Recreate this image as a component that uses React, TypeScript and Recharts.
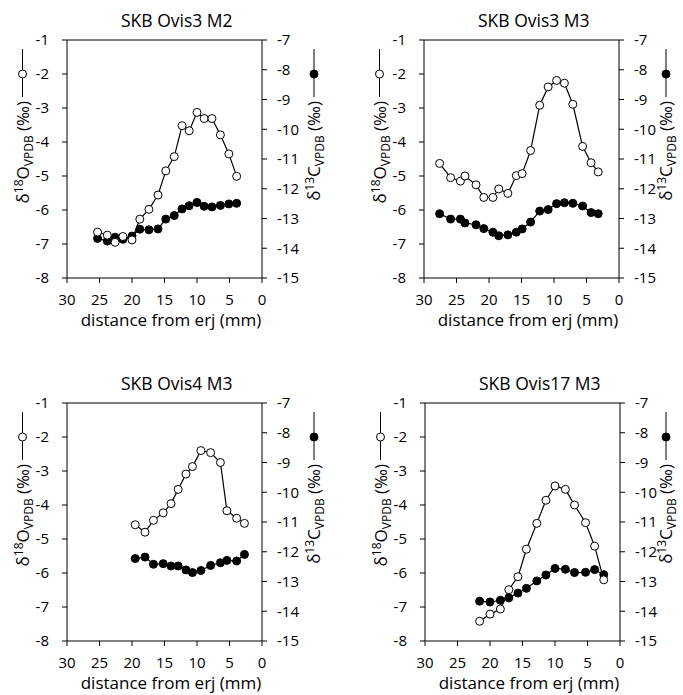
import React from 'react';
import { LineChart, Line, XAxis, YAxis, ReferenceLine } from 'recharts';

// ---------- data (distance from erj in mm, δ18O ‰, δ13C ‰) ----------
const titles = ['SKB Ovis3 M2', 'SKB Ovis3 M3', 'SKB Ovis4 M3', 'SKB Ovis17 M3'];

const distOvis3M2 = [25.3, 23.8, 22.6, 21.4, 20.0, 18.8, 17.4, 16.0, 14.8, 13.5, 12.3, 11.2, 10.0, 8.9, 7.7, 6.4, 5.1, 3.9];
const o18Ovis3M2 = [-6.65, -6.74, -6.95, -6.78, -6.88, -6.27, -5.98, -5.56, -4.85, -4.43, -3.52, -3.67, -3.13, -3.31, -3.31, -3.79, -4.35, -5.01];
const c13Ovis3M2 = [-13.67, -13.76, -13.63, -13.7, -13.59, -13.36, -13.38, -13.35, -13.02, -12.9, -12.68, -12.57, -12.46, -12.59, -12.61, -12.56, -12.51, -12.49];

const distOvis3M3 = [27.6, 25.9, 24.4, 23.7, 22.0, 20.8, 19.4, 18.5, 17.1, 15.8, 14.9, 13.6, 12.2, 10.9, 9.6, 8.4, 7.1, 5.6, 4.3, 3.2];
const o18Ovis3M3 = [-4.63, -5.05, -5.15, -5.0, -5.26, -5.63, -5.63, -5.38, -5.51, -4.99, -4.93, -4.25, -2.92, -2.38, -2.19, -2.27, -2.89, -4.13, -4.61, -4.88];
const c13Ovis3M3 = [-12.84, -13.02, -13.02, -13.15, -13.21, -13.34, -13.46, -13.58, -13.55, -13.46, -13.35, -13.12, -12.75, -12.7, -12.5, -12.47, -12.49, -12.58, -12.8, -12.84];

const distOvis4M3 = [19.5, 18.0, 16.7, 15.2, 14.0, 12.9, 11.7, 10.7, 9.4, 7.9, 6.4, 5.4, 3.9, 2.7];
const o18Ovis4M3 = [-4.58, -4.8, -4.45, -4.23, -3.96, -3.54, -3.09, -2.87, -2.4, -2.46, -2.75, -4.17, -4.39, -4.54];
const c13Ovis4M3 = [-12.23, -12.18, -12.42, -12.4, -12.48, -12.48, -12.61, -12.7, -12.63, -12.46, -12.37, -12.29, -12.31, -12.09];

const distOvis17M3 = [21.6, 20.0, 18.4, 17.1, 15.7, 14.4, 12.8, 11.4, 10.0, 8.4, 7.0, 5.3, 3.9, 2.5];
const o18Ovis17M3 = [-7.42, -7.21, -7.06, -6.49, -6.11, -5.3, -4.54, -3.86, -3.44, -3.54, -4.0, -4.52, -5.21, -6.2];
const c13Ovis17M3 = [-13.66, -13.69, -13.63, -13.55, -13.39, -13.23, -12.98, -12.78, -12.56, -12.59, -12.7, -12.69, -12.6, -12.77];

const xTicks = [30, 25, 20, 15, 10, 5, 0];
const oxygenTicks = [-8, -7, -6, -5, -4, -3, -2, -1];
const carbonTicks = [-15, -14, -13, -12, -11, -10, -9, -8, -7];
const xLabel = 'distance from erj (mm)';

// ---------- helpers ----------
type Row = { d: number; o: number; c: number };
const build = (d: number[], o: number[], c: number[]): Row[] =>
  d.map((v, i) => ({ d: v, o: o[i], c: c[i] }));

const FONT = '"Open Sans", "DejaVu Sans", sans-serif';
const INK = '#000';

const CHART_H = 332;
const PLOT_LEFT = 67;
const PLOT_W = 195;
const AXIS_W = 40;
const MARGIN_TOP = 40;
const MARGIN_LEFT = PLOT_LEFT - AXIS_W;

const panels = [
  { title: titles[0], left: 0, top: 0, width: 341, rOff: 58, data: build(distOvis3M2, o18Ovis3M2, c13Ovis3M2) },
  { title: titles[1], left: 357, top: 0, width: 326, rOff: 53, data: build(distOvis3M3, o18Ovis3M3, c13Ovis3M3) },
  { title: titles[2], left: 0, top: 363, width: 341, rOff: 58, data: build(distOvis4M3, o18Ovis4M3, c13Ovis4M3) },
  { title: titles[3], left: 358, top: 363, width: 325, rOff: 52, data: build(distOvis17M3, o18Ovis17M3, c13Ovis17M3) },
];

function IsoLabel(props: any, side: 'left' | 'right', rOff: number) {
  const vb = props && props.viewBox ? props.viewBox : null;
  const top = vb ? vb.y : MARGIN_TOP;
  const baseX =
    side === 'left'
      ? (vb ? vb.x + vb.width : PLOT_LEFT) - 38.5
      : (vb ? vb.x : PLOT_LEFT + PLOT_W) + rOff;
  const symX = baseX - 6;
  const element = side === 'left' ? 'O' : 'C';
  const mass = side === 'left' ? '18' : '13';
  return (
    <g>
      <line x1={symX} x2={symX} y1={top + 9} y2={top + 57} stroke={INK} strokeWidth={1} />
      <circle
        cx={symX}
        cy={top + 34}
        r={4}
        fill={side === 'left' ? '#fff' : INK}
        stroke={INK}
        strokeWidth={1}
      />
      <g transform={`translate(${baseX}, ${top + 61}) rotate(-90)`}>
        <text x={0} y={0} textAnchor="end" fontFamily={FONT} fontSize={17} fill={INK}>
          <tspan>δ</tspan>
          <tspan dy={-6} fontSize={12}>{mass}</tspan>
          <tspan dy={6}>{element}</tspan>
          <tspan dy={4} fontSize={12}>VPDB</tspan>
          <tspan dy={-4}> (‰)</tspan>
        </text>
      </g>
    </g>
  );
}

function XLabel(props: any) {
  const vb = props && props.viewBox ? props.viewBox : null;
  const x = vb ? vb.x + vb.width / 2 + 6.5 : PLOT_LEFT + PLOT_W / 2 + 6.5;
  const y = vb ? vb.y + 48 : MARGIN_TOP + 238 + 48;
  return (
    <text x={x} y={y} textAnchor="middle" fontFamily={FONT} fontSize={17} fill={INK}>
      {xLabel}
    </text>
  );
}

function Panel({ title, left, top, width, rOff, data }: { title: string; left: number; top: number; width: number; rOff: number; data: Row[] }) {
  const margin = { top: MARGIN_TOP, right: width - PLOT_LEFT - PLOT_W - AXIS_W, bottom: 0, left: MARGIN_LEFT };
  return (
    <div style={{ position: 'absolute', left, top, width, height: CHART_H }}>
      <div
        style={{
          position: 'absolute',
          left: PLOT_LEFT + 54,
          top: MARGIN_TOP - 30,
          fontFamily: FONT,
          fontSize: 17.5,
          lineHeight: '20px',
          whiteSpace: 'nowrap',
          color: INK,
        }}
      >
        {title}
      </div>
      <LineChart width={width} height={CHART_H} data={data} margin={margin}>
        <XAxis
          dataKey="d"
          type="number"
          domain={[0, 30]}
          reversed
          ticks={xTicks}
          interval={0}
          height={CHART_H - MARGIN_TOP - 238}
          axisLine={{ stroke: INK }}
          tickLine={{ stroke: INK }}
          tickSize={5}
          tickMargin={11}
          tick={{ fill: INK, fontSize: 15, fontFamily: FONT }}
          label={{ content: (p: any) => XLabel(p) }}
        />
        <YAxis
          yAxisId="left"
          orientation="left"
          domain={[-8, -1]}
          ticks={oxygenTicks}
          interval={0}
          width={AXIS_W}
          axisLine={{ stroke: INK }}
          tickLine={{ stroke: INK }}
          tickSize={5}
          tickMargin={13}
          tick={{ fill: INK, fontSize: 15, fontFamily: FONT }}
          label={{ content: (p: any) => IsoLabel(p, 'left', rOff) }}
        />
        <YAxis
          yAxisId="right"
          orientation="right"
          domain={[-15, -7]}
          ticks={carbonTicks}
          interval={0}
          width={AXIS_W}
          axisLine={{ stroke: INK }}
          tickLine={{ stroke: INK }}
          tickSize={5}
          tickMargin={10}
          tick={{ fill: INK, fontSize: 15, fontFamily: FONT }}
          label={{ content: (p: any) => IsoLabel(p, 'right', rOff) }}
        />
        <ReferenceLine yAxisId="left" y={-1} stroke={INK} strokeWidth={1} />
        <Line
          yAxisId="right"
          dataKey="c"
          type="linear"
          stroke={INK}
          strokeWidth={1.2}
          dot={{ r: 4, fill: INK, stroke: INK, strokeWidth: 1 }}
          activeDot={false}
          isAnimationActive={false}
        />
        <Line
          yAxisId="left"
          dataKey="o"
          type="linear"
          stroke={INK}
          strokeWidth={1.2}
          dot={{ r: 4, fill: '#fff', stroke: INK, strokeWidth: 1 }}
          activeDot={false}
          isAnimationActive={false}
        />
      </LineChart>
    </div>
  );
}

export default function App() {
  return (
    <div
      style={{
        position: 'absolute',
        left: 0,
        top: 0,
        width: 683,
        height: 695,
        overflow: 'hidden',
        background: '#fff',
      }}
    >
      {panels.map((p) => (
        <Panel key={p.title} {...p} />
      ))}
    </div>
  );
}
